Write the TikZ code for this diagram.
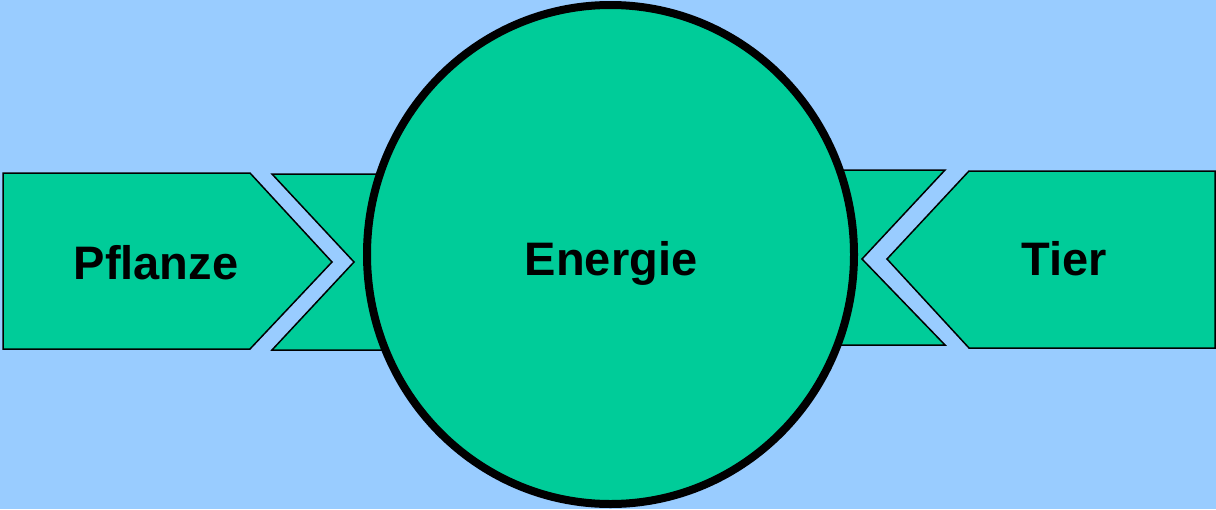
\documentclass[tikz,border=0pt]{standalone}
\usepackage{fontspec}
\setmainfont{Liberation Sans}
\definecolor{bgblue}{RGB}{153,204,255}
\definecolor{leaf}{RGB}{0,204,153}
\begin{document}
\begin{tikzpicture}[x=1pt,y=-1pt,
  arrowshape/.style={fill=leaf,draw=black,line width=1.5pt,line join=miter},
  label/.style={font=\fontsize{47}{56}\selectfont\bfseries,inner sep=0pt}]
\fill[bgblue] (0,0) rectangle (1216,509);
\useasboundingbox (0,0) rectangle (1216,509);
% left side
\draw[arrowshape] (3,173) -- (250,173) -- (332,262) -- (250,349) -- (3,349) -- cycle;
\draw[arrowshape] (420,174) -- (272,174) -- (354,262) -- (272,350) -- (420,350);
% right side
\draw[arrowshape] (800,170) -- (945,170) -- (862,259) -- (945,345) -- (800,345);
\draw[arrowshape] (1215,171) -- (969,171) -- (887,259) -- (969,348) -- (1215,348) -- cycle;
% circle
\draw[fill=leaf,draw=black,line width=8pt] (610.5,254.5) ellipse [x radius=243.5, y radius=249.5];
\node[label] (pflanze) at (156,263) {Pflanze};
\node[label] (energie) at (611,263.5) {Energie};
\node[label] (tier) at (1064.5,258.5) {Tier};
\end{tikzpicture}
\end{document}
